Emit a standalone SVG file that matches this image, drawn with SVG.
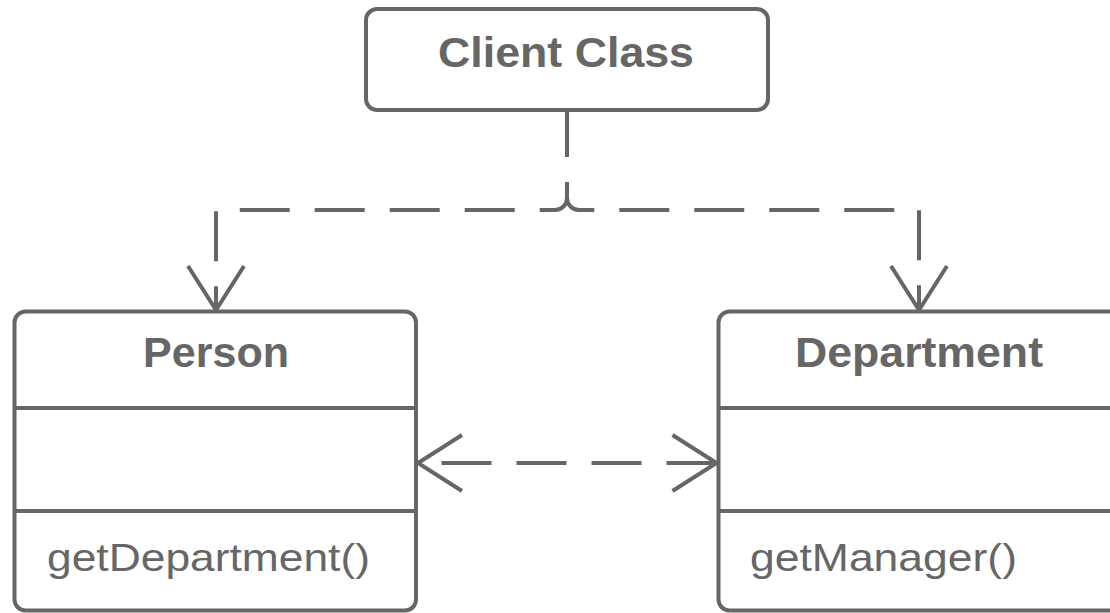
<svg xmlns="http://www.w3.org/2000/svg" width="1110" height="613" viewBox="0 0 1110 613">
<style>
.box{fill:#ffffff;stroke:#666666;stroke-width:4}
.div{stroke:#666666;stroke-width:4;fill:none}
.title{font-family:"Liberation Sans",Arial,sans-serif;font-weight:bold;font-size:43px;fill:#666666;text-anchor:middle}
.meth{font-family:"Liberation Sans",Arial,sans-serif;font-size:38.5px;fill:#666666}
.conn{fill:none;stroke:#666666;stroke-width:4;stroke-dasharray:50 25;stroke-dashoffset:3}
</style>
<defs>
<marker id="open" viewBox="-50 -35 60 70" refX="0" refY="0" markerWidth="60" markerHeight="70" markerUnits="userSpaceOnUse" orient="auto-start-reverse" overflow="visible">
<path d="M-44,-28 L0,0 L-44,28" fill="none" stroke="#666666" stroke-width="4" stroke-linejoin="miter"/>
</marker>
</defs>
<rect width="1110" height="613" fill="#ffffff"/>
<g id="connectors">
<path class="conn" d="M567,110 V198 A12,12 0 0 1 555,210 H216 V310" marker-end="url(#open)"/>
<path class="conn" d="M567,110 V198 A12,12 0 0 0 579,210 H919 V310" marker-end="url(#open)"/>
<path class="conn" style="stroke-dashoffset:0" d="M716.5,463 H418" marker-start="url(#open)" marker-end="url(#open)"/>
</g>
<g id="client">
<rect class="box" x="366" y="9" width="402" height="101" rx="11"/>
<text class="title" x="566" y="67" textLength="256" lengthAdjust="spacingAndGlyphs">Client Class</text>
</g>
<g id="person">
<rect class="box" x="14.5" y="311.5" width="401.5" height="299" rx="11"/>
<line class="div" x1="14.5" y1="408" x2="416" y2="408"/>
<line class="div" x1="14.5" y1="511" x2="416" y2="511"/>
<text class="title" x="216" y="367" textLength="146" lengthAdjust="spacingAndGlyphs">Person</text>
<text class="meth" x="47" y="570.5" textLength="323" lengthAdjust="spacingAndGlyphs">getDepartment()</text>
</g>
<g id="department">
<rect class="box" x="718.5" y="311.5" width="401.5" height="299" rx="11"/>
<line class="div" x1="718.5" y1="408" x2="1120" y2="408"/>
<line class="div" x1="718.5" y1="511" x2="1120" y2="511"/>
<text class="title" x="919" y="367" textLength="248" lengthAdjust="spacingAndGlyphs">Department</text>
<text class="meth" x="750" y="570.5" textLength="267" lengthAdjust="spacingAndGlyphs">getManager()</text>
</g>
</svg>
